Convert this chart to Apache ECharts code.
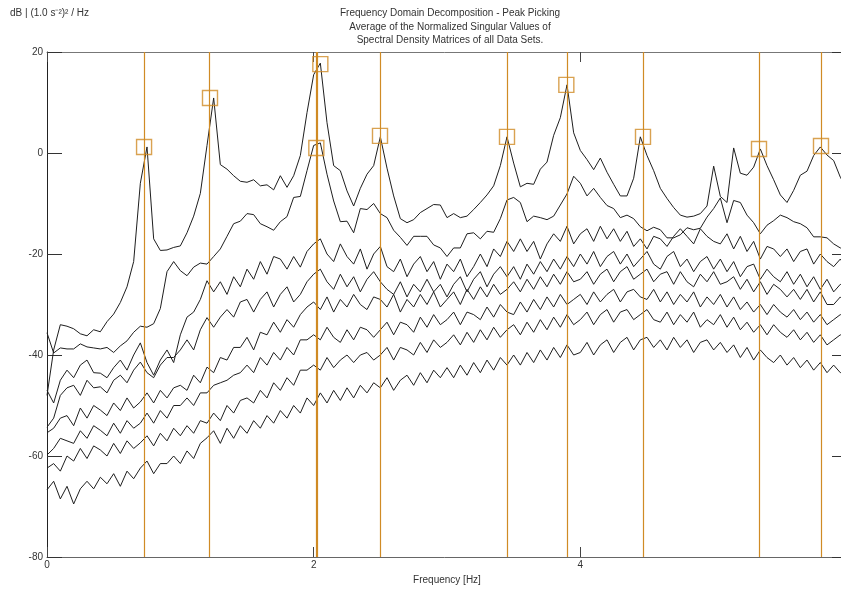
<!DOCTYPE html>
<html>
<head>
<meta charset="utf-8">
<title>FDD peak picking</title>
<script src="https://cdn.jsdelivr.net/npm/echarts@6/dist/echarts.min.js"></script>
<style>
  html, body { margin: 0; padding: 0; background: #fff; }
  #chart { width: 841px; height: 590px; }
</style>
</head>
<body>
<div id="chart"></div>
<script>
// frequency grid [Hz]
var freq = [
  0.00, 0.05, 0.10, 0.15, 0.20, 0.25, 0.30, 0.35, 0.40, 0.45,
  0.50, 0.55, 0.60, 0.65, 0.70, 0.75, 0.80, 0.85, 0.90, 0.95,
  1.00, 1.05, 1.10, 1.15, 1.20, 1.25, 1.30, 1.35, 1.40, 1.45,
  1.50, 1.55, 1.60, 1.65, 1.70, 1.75, 1.80, 1.85, 1.90, 1.95,
  2.00, 2.05, 2.10, 2.15, 2.20, 2.25, 2.30, 2.35, 2.40, 2.45,
  2.50, 2.55, 2.60, 2.65, 2.70, 2.75, 2.80, 2.85, 2.90, 2.95,
  3.00, 3.05, 3.10, 3.15, 3.20, 3.25, 3.30, 3.35, 3.40, 3.45,
  3.50, 3.55, 3.60, 3.65, 3.70, 3.75, 3.80, 3.85, 3.90, 3.95,
  4.00, 4.05, 4.10, 4.15, 4.20, 4.25, 4.30, 4.35, 4.40, 4.45,
  4.50, 4.55, 4.60, 4.65, 4.70, 4.75, 4.80, 4.85, 4.90, 4.95,
  5.00, 5.05, 5.10, 5.15, 5.20, 5.25, 5.30, 5.35, 5.40, 5.45,
  5.50, 5.55, 5.60, 5.65, 5.70, 5.75, 5.80, 5.85, 5.90, 5.95,
  6.00
];

// singular values, dB
var sv1 = [
  -48, -39, -34, -34.3, -34.8, -35.8, -36.2, -35, -35.4, -33.4,
  -31.9, -29.6, -26.5, -21.5, -6, 1.2, -17, -19.3, -19.2, -18.7,
  -18.4, -15.8, -12.5, -8, 1.5, 10.9, -2.3, -3.2, -4.5, -5.6,
  -5.8, -5.3, -6.5, -6.3, -7.3, -4.5, -6.8, -4.5, -0.5, 8,
  15.5, 17.8, 6, -2.5, -3.5, -7.5, -10.5, -7, -4.2, -2.5,
  3.2, -3, -8.5, -13, -13.8, -13.2, -11.8, -11, -10.2, -10.3,
  -12.8, -12, -12.8, -12.5, -11.2, -9.8, -8.3, -6.5, -2.5, 3.2,
  -2, -6.7, -6, -6.2, -3.2, -1.8, 3.5, 7, 13.5, 4,
  0.5, -1.3, -3.3, -1, -3.8, -6.2, -8.5, -8.5, -5, 3.2,
  -0.5, -3.5, -7, -9, -10.8, -12.3, -12.7, -12.5, -12, -10.5,
  -2.6, -8.6, -9.8, 1, -4, -4.4, -2.8, 0.8, -2.5, -5.3,
  -8.3, -9.8, -7.4, -4.4, -3.6, -0.5, 1.2, -0.4, -1.5, -4.8,
  -7
];
var sv2 = [
  -35.6, -39.6, -38.6, -38.8, -38.8, -37.8, -38.4, -38.6, -38.8, -38.5,
  -39.5, -38.2, -37.2, -35.5, -34.3, -34.5, -33.8, -30.8, -23.5, -21.5,
  -23.3, -24.3, -22.6, -21.8, -22, -20.5, -19, -16.5, -14, -13.5,
  -12, -12.2, -14, -14.6, -15.3, -13.6, -12.6, -8.8, -8.6, -3.5,
  1.5, 2, -4.2, -9.5, -13.6, -13.5, -15.8, -11, -11.2, -10,
  -12, -12.8, -15.3, -16.7, -18.3, -16.5, -16.5, -16.5, -18.2, -18.8,
  -20.5, -18.8, -18.8, -16, -15.8, -17, -15.5, -15.7, -13, -9.3,
  -8.8, -9.8, -13.6, -12.5, -12.8, -13.2, -12.5, -10.3, -8.1, -4.6,
  -6, -8.5, -7, -8.8, -10.4, -11, -12.8, -12.3, -13, -14.6,
  -15.4, -14.7, -15.2, -16.8, -16.8, -16.2, -14.8, -15.2, -14.9, -12.7,
  -11, -8.9, -13.8, -9.4, -9.8, -12.3, -13.8, -16, -14.3, -13.4,
  -12.3, -12.8, -13.6, -14, -14.8, -16.6, -16.6, -16.8, -18, -18.8,
  -19
];
var sv3 = [
  -47, -49.5, -45, -43, -44.5, -42, -41, -43.5, -43.6, -44.5,
  -42.5, -41, -43, -40, -37.6, -41.5, -44, -41, -39, -41.5,
  -36, -32.5, -31.5, -29, -25.3, -27.5, -25.5, -28, -24.5, -26.5,
  -23, -25, -21.5, -24, -20.5, -21, -23, -20.5, -22.6, -19.5,
  -18, -17, -20, -21.5, -18, -20.5, -22, -19, -23, -20,
  -18.5, -22.5, -23.5, -21, -24.5, -22, -20.5, -23.5, -21.5, -25,
  -22, -23.5, -21, -24.5, -22.5, -20, -22.5, -19, -20.5, -17.5,
  -19.5, -17, -19.5, -17.5, -21, -18, -16, -17.5, -14.5, -18,
  -16, -15, -17.5, -14.5, -17, -15, -17.5, -15.5, -18.5, -17,
  -19, -16.5, -17, -18.5, -16.5, -15, -16.5, -18, -15, -16.5,
  -17.5, -18, -16, -19, -16.5, -19.5, -17.5, -21, -18.5, -19,
  -20.5, -19, -21.5, -19.5, -19, -22, -20, -21.5, -22.5, -21,
  -23
];
var sv4 = [
  -54.3, -52.5, -48, -46.5, -46, -48, -45, -46.5, -46.3, -47.5,
  -45, -44, -45.5, -43, -41.4, -43.5, -44.5, -42, -40.5, -40.5,
  -39, -37, -39, -35, -32.6, -34.5, -32.5, -31, -32.5, -29.5,
  -29, -31.5, -29, -27.5, -30.5, -28, -26.5, -29.5, -28, -25.5,
  -24, -23, -25.5, -27, -24, -26.5, -24.5, -27.5, -25, -23.5,
  -25.5, -27, -28, -25.5, -28.5, -26, -27.5, -25, -27.5, -26,
  -28.5, -26, -24.5, -27.5, -25, -23.5, -26.5, -24, -22.5, -24.5,
  -22.5, -25, -22, -24, -21.5, -23.5, -21, -23, -20.5, -22.5,
  -20, -22, -19.5, -22.5, -20.5, -19.5, -22, -20, -22.5, -21,
  -19.5, -22, -23, -20.5, -19.5, -22.5, -21, -23.5, -21.5, -20.5,
  -23, -21, -23.5, -21.5, -24.5, -22.5, -22, -25, -23, -24.5,
  -25.5, -23.5, -26, -24, -26.5, -24.5, -27, -25, -27.5, -26,
  -27
];
var sv5 = [
  -55.4, -54.5, -52.5, -52, -54, -50.5, -52.5, -50, -50.9, -52,
  -49.5, -51, -48.5, -50.5, -49.3, -47.5, -49.5, -47, -48.5, -46.5,
  -46, -47, -44, -45.5, -42.4, -43.5, -40.5, -41, -38.5, -38.5,
  -36.5, -39, -35.5, -36, -33.5, -35.5, -33, -34.5, -32, -30.5,
  -29.5, -31, -28.5, -31.5, -29, -30.5, -28, -30, -31, -28.5,
  -29, -30.5, -28, -31.5, -29, -30.5, -28, -30, -27.5, -30.5,
  -29, -27.5, -30, -27, -29, -26.5, -28.5, -26, -28, -27,
  -25.5, -27.5, -25, -27, -24.5, -26.5, -24, -26, -23.5, -25.5,
  -25, -23.5, -26, -24, -23, -25.5, -23.5, -22.5, -25, -24,
  -23, -25.5, -24, -23.5, -26, -23.5, -25.5, -26.5, -24, -25.5,
  -23.5, -26, -25.5, -24.5, -27, -25, -27.5, -25.5, -28, -26,
  -27, -28.5, -27, -29, -27, -29.5, -27.5, -30, -30, -28.5,
  -30
];
var sv6 = [
  -59.8, -58.5, -56.5, -57, -57.5, -55, -56.5, -54, -54.9, -56,
  -53.5, -55.5, -53, -54.5, -53.5, -51.5, -53.5, -51, -52.5, -50,
  -50, -48.5, -50, -47.5, -47.5, -46, -45.5, -45, -44, -43.5,
  -42, -43.5, -40.5, -42, -39.5, -41, -38.5, -40, -37, -37,
  -36, -37, -34.5, -36.5, -37.5, -35, -37, -34.5, -35, -36.5,
  -35, -33.5, -36, -33.5, -34, -35.5, -32.5, -34.5, -32, -34,
  -33, -31.5, -34, -31.5, -32, -33, -30.5, -32.5, -30, -31.5,
  -32, -29.5, -31.5, -29, -31, -28.5, -30.5, -28, -30, -29,
  -28, -30, -27.5, -29.5, -28, -27, -29.5, -27.5, -27, -28.5,
  -29, -27, -29.5, -27.5, -30, -28, -29.5, -27.5, -30.5, -28.5,
  -30, -28, -30.5, -28.5, -31, -29.5, -31.5, -30, -32, -30,
  -31.5, -32.5, -31, -33, -31.5, -33.5, -32, -34, -33, -32,
  -33
];
var sv7 = [
  -62.4, -61.5, -63, -60, -61, -58.5, -60.5, -58, -58.8, -60,
  -57.5, -59.5, -57, -58.5, -57.4, -56, -58, -55.5, -57, -54.5,
  -56, -54, -55.5, -53, -53.5, -51.5, -53, -50, -51.5, -49,
  -48.5, -49.5, -47, -48.5, -45.5, -47, -44.5, -46, -43, -43,
  -42, -43, -40.5, -42.5, -41, -40, -41.5, -40, -39.5, -41,
  -40, -38.5, -41, -38.5, -39, -40, -37.5, -39.5, -37, -38.5,
  -37.5, -36, -38, -35.5, -37.5, -35, -37, -34.5, -36.5, -35,
  -34, -36, -33.5, -35.5, -33, -35, -32.5, -34.5, -32, -34,
  -33, -31.5, -34, -32, -31, -33.5, -31.5, -31, -33, -32,
  -31, -33, -33.5, -31.5, -34, -32, -33.5, -31.5, -34.5, -33,
  -34, -32, -34.5, -32.5, -35, -33.5, -35.5, -34, -36, -34,
  -35.5, -36.5, -35, -37, -35.5, -37.5, -36, -38, -37, -36,
  -37
];
var sv8 = [
  -66.7, -65, -68.5, -66, -69.5, -66.5, -65, -66.5, -64.2, -65.5,
  -63.5, -66, -63, -64.5, -62.4, -61, -63.5, -61.5, -61.5, -60,
  -61.5, -59, -60.5, -57.5, -56.4, -55, -57.5, -54.5, -56.5, -54,
  -55.5, -53, -54.5, -52, -53.5, -51, -52.5, -50, -51.5, -48.5,
  -50, -47.5, -49.5, -47, -49, -46.5, -48.5, -46, -47.5, -45.5,
  -46.5, -44.5, -47, -45, -44, -46, -43.5, -45.5, -43, -44.5,
  -42.5, -44.5, -42, -44, -41.5, -43.5, -41, -43, -40.5, -42,
  -40, -42, -39.5, -41.5, -39, -41, -38.5, -40.5, -38, -40,
  -39.5, -37.5, -40, -38, -37, -39.5, -37.5, -36.5, -39, -37,
  -36.5, -38.5, -37, -39, -36.5, -38.5, -37, -39.5, -37.5, -37,
  -39, -37.5, -39.5, -38, -40.5, -38.5, -41, -39, -40.5, -41.5,
  -40, -42, -40.5, -42.5, -41, -43, -41.5, -43.5, -42, -43.5,
  -43
];
var singularValues = [sv1, sv2, sv3, sv4, sv5, sv6, sv7, sv8];

// picked peaks
var peakFreq = [0.728, 1.2225, 2.05, 2.02, 2.4975, 3.45, 3.895, 4.47, 5.34, 5.805];
var peakDb   = [1.2, 10.9, 17.6, 1.0, 3.4, 3.2, 13.5, 3.2, 0.8, 1.4];
// vertical marker lines of the picked frequencies
var pickLines = [0.728, 1.2225, 2.021, 2.033, 2.4975, 3.45, 3.895, 4.47, 5.34, 5.81];

var xTicks = [0, 2, 4];
var yTicks = [20, 0, -20, -40, -60, -80];

var ORANGE = '#d08b25';
var FONT = 'Liberation Sans, Arial, sans-serif';

var chart = echarts.init(document.getElementById('chart'));

var series = singularValues.map(function (sv, i) {
  return {
    name: 'SV' + (i + 1),
    type: 'line',
    data: freq.map(function (f, j) { return [f, sv[j]]; }),
    showSymbol: false,
    symbol: 'none',
    lineStyle: { color: '#1e1e1e', width: 1 },
    z: 3,
    silent: true
  };
});

series.push({
  name: 'peaks',
  type: 'scatter',
  data: peakFreq.map(function (f, i) { return [f, peakDb[i]]; }),
  symbol: 'rect',
  symbolSize: 15,
  itemStyle: { color: 'rgba(255,255,255,0)', borderColor: ORANGE, borderWidth: 1.4 },
  z: 5,
  silent: true,
  markLine: {
    silent: true,
    symbol: ['none', 'none'],
    label: { show: false },
    lineStyle: { color: ORANGE, width: 1.2, type: 'solid', opacity: 1 },
    data: pickLines.map(function (f) { return { xAxis: f }; }),
    animation: false
  }
});

var option = {
  animation: false,
  backgroundColor: '#fff',
  textStyle: { fontFamily: FONT },
  // plot box runs a few px past the right edge of the picture
  grid: { left: 47, top: 52, width: 800, height: 505, containLabel: false, outerBoundsMode: 'none' },
  graphic: [
    { type: 'text', left: 10, top: 8,
      style: { text: 'dB | (1.0 s\u207B\u00B2)\u00B2 / Hz', font: '10px ' + FONT, fill: '#333' } },
    { type: 'text', x: 450, y: 13,
      style: { text: 'Frequency Domain Decomposition - Peak Picking', font: '10px ' + FONT, fill: '#333', align: 'center', verticalAlign: 'middle' } },
    { type: 'text', x: 450, y: 27,
      style: { text: 'Average of the Normalized Singular Values of', font: '10px ' + FONT, fill: '#333', align: 'center', verticalAlign: 'middle' } },
    { type: 'text', x: 450, y: 40,
      style: { text: 'Spectral Density Matrices of all Data Sets.', font: '10px ' + FONT, fill: '#333', align: 'center', verticalAlign: 'middle' } }
  ],
  xAxis: [
    {
      type: 'value', position: 'bottom', min: 0, max: 6, interval: 2,
      name: 'Frequency [Hz]', nameLocation: 'middle', nameGap: 17,
      nameTextStyle: { fontSize: 10, color: '#333', fontFamily: FONT },
      axisLine: { show: true, onZero: false, lineStyle: { color: '#666', width: 1 } },
      axisTick: { show: true, inside: true, length: 10, lineStyle: { color: '#444' } },
      axisLabel: {
        fontSize: 10, color: '#333', margin: 3, showMaxLabel: false,
        formatter: function (v) { return xTicks.indexOf(v) >= 0 ? String(v) : ''; }
      },
      splitLine: { show: false }
    },
    {
      type: 'value', position: 'top', min: 0, max: 6, interval: 2,
      axisLine: { show: true, onZero: false, lineStyle: { color: '#777', width: 1 } },
      axisTick: { show: true, inside: true, length: 10, lineStyle: { color: '#444' } },
      axisLabel: { show: false },
      splitLine: { show: false }
    }
  ],
  yAxis: [
    {
      type: 'value', position: 'left', min: -80, max: 20, interval: 20,
      axisLine: { show: true, onZero: false, lineStyle: { color: '#222', width: 1 } },
      axisTick: { show: true, inside: true, length: 15, lineStyle: { color: '#333' } },
      axisLabel: {
        fontSize: 10, color: '#333', margin: 4,
        formatter: function (v) { return yTicks.indexOf(v) >= 0 ? String(v) : ''; }
      },
      splitLine: { show: false }
    },
    {
      type: 'value', position: 'right', min: -80, max: 20, interval: 20,
      axisLine: { show: true, onZero: false, lineStyle: { color: '#222', width: 1 } },
      axisTick: { show: true, inside: true, length: 15, lineStyle: { color: '#333' } },
      axisLabel: { show: false },
      splitLine: { show: false }
    }
  ],
  series: series
};

chart.setOption(option);
</script>
</body>
</html>
